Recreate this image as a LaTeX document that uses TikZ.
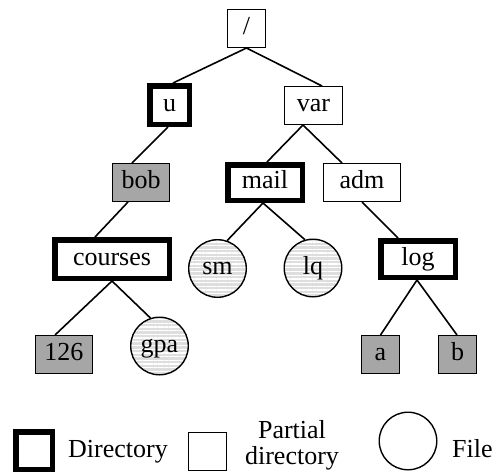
\documentclass[tikz,border=0pt]{standalone}
\usepackage{fontspec}
\setmainfont{Liberation Serif}
\usetikzlibrary{patterns.meta}
\begin{document}
\begin{tikzpicture}[x=1pt,y=-1pt,
  lbl/.style={font=\fontsize{26}{25}\selectfont, inner sep=0pt, text height=18pt, text depth=6pt},
  keytext/.style={font=\fontsize{26}{26}\selectfont, inner sep=0pt},
  dirbox/.style={lbl, draw, rectangle, line width=5.5pt},
  partbox/.style={lbl, draw, rectangle, line width=1.4pt},
  filebox/.style={partbox, fill=black!35},
  filecirc/.style={lbl, circle, draw, line width=1.4pt, minimum size=57.6pt,
    preaction={fill=black!13},
    pattern={Lines[angle=0,distance=3.7pt,line width=1.3pt]}, pattern color=white},
  link/.style={line width=1.6pt}
]
\useasboundingbox (0,0) rectangle (496,475);

% tree nodes
\node[partbox, minimum width=37.6pt, minimum height=37.6pt] (root) at (246.5,28.5) {/};
\node[dirbox, minimum width=39.5pt, minimum height=38.5pt] (u) at (169.5,105) {u};
\node[partbox, minimum width=57.6pt, minimum height=37.6pt] (var) at (313.5,105.5) {var};
\node[filebox, minimum width=56.6pt, minimum height=37.6pt] (bob) at (141,182.5) {bob};
\node[dirbox, minimum width=74.5pt, minimum height=35.5pt] (mail) at (265,182.5) {mail};
\node[partbox, minimum width=76.6pt, minimum height=37.6pt] (adm) at (362,182.5) {adm};
\node[dirbox, minimum width=114.5pt, minimum height=38.5pt] (courses) at (112,259) {courses};
\node[filecirc] (sm) at (217.5,268.5) {sm};
\node[filecirc] (lq) at (313,268) {lq};
\node[dirbox, minimum width=74.5pt, minimum height=36.5pt] (log) at (418,259) {log};
\node[filebox, minimum width=56.6pt, minimum height=37.6pt] (n126) at (64,354.5) {126};
\node[filecirc] (gpa) at (159.5,346) {gpa};
\node[filebox, minimum width=37.6pt, minimum height=37.6pt] (a) at (380.5,354.5) {a};
\node[filebox, minimum width=37.6pt, minimum height=37.6pt] (b) at (457.5,354.5) {b};

% connectors
\draw[link] (root.south) -- ([xshift=3.5pt]u.north);
\draw[link] (root.south) -- ([xshift=8.5pt]var.north);
\draw[link] ([xshift=-1.5pt]u.south) -- ([xshift=-9pt]bob.north);
\draw[link] ([xshift=-13pt]bob.south) -- ([xshift=-17pt]courses.north);
\draw[link] ([xshift=-10.5pt]var.south) -- ([xshift=2pt]mail.north);
\draw[link] ([xshift=-10.5pt]var.south) -- ([xshift=-20pt]adm.north);
\draw[link] ([xshift=-2pt]mail.south) -- (sm.71);
\draw[link] ([xshift=-2pt]mail.south) -- (lq.106);
\draw[link] (adm.south) -- ([xshift=-20pt]log.north);
\draw[link] (courses.south) -- ([xshift=-9pt]n126.north);
\draw[link] (courses.south) -- (gpa.108);
\draw[link] ([xshift=-1pt]log.south) -- (a.north);
\draw[link] ([xshift=-1pt]log.south) -- ([xshift=-0.5pt]b.north);

% legend
\node[dirbox, minimum width=36.5pt, minimum height=37.5pt] (keydir) at (34,450.5) {};
\node[keytext, anchor=base west] (keydirtext) at (68,457) {Directory};
\node[partbox, minimum width=37.6pt, minimum height=37.6pt] (keypart) at (207.5,451.5) {};
\node[keytext, align=center] (keyparttext) at (292,445.5) {Partial\\directory};
\node[circle, draw, line width=1.4pt, minimum size=57.6pt, inner sep=0pt] (keyfile) at (408,441) {};
\node[keytext, anchor=base west] (keyfiletext) at (452,457) {File};
\end{tikzpicture}
\end{document}
